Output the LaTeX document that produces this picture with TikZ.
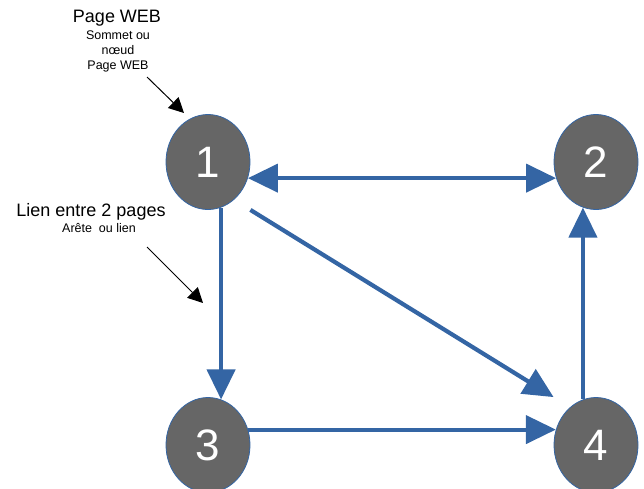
\documentclass[tikz,border=0pt]{standalone}
\usepackage{fontspec}
\setmainfont{Liberation Sans}
\usetikzlibrary{arrows.meta,calc,shapes.geometric}
\definecolor{lblue}{HTML}{3465A4}
\definecolor{nodegray}{HTML}{666666}
\tikzset{
  page/.style={ellipse, draw=lblue, line width=0.8pt, fill=nodegray, text=white,
    minimum width=84pt, minimum height=95pt, inner sep=0pt,
    font=\fontsize{44}{44}\selectfont},
  link/.style={draw=lblue, line width=4.2pt, -{Triangle[length=30pt,width=28pt]}},
  blink/.style={draw=lblue, line width=4.2pt, {Triangle[length=30pt,width=28pt]}-{Triangle[length=30pt,width=28pt]}},
  note/.style={-{Triangle[length=15pt,width=15pt]}, line width=1pt, black},
  big/.style={font=\fontsize{18}{20}\selectfont, inner sep=0pt},
  small/.style={font=\fontsize{12.5}{15}\selectfont, align=center, inner sep=0pt}
}
\begin{document}
\begin{tikzpicture}[x=1pt,y=-1pt]
\useasboundingbox (0,0) rectangle (644,488);
\node[page] (n1) at (208,162) {1};
\node[page] (n2) at (596,162) {2};
\node[page] (n3) at (208,445) {3};
\node[page] (n4) at (596,445) {4};

\draw[blink] (n1.-22) -- (n2.202);
\draw[link] (n1.-74) -- (n3.74);
\draw[link] ($(n1.east |- n1.south)$) -- ($(n4.west |- n4.north)$);
\draw[link] (n3.21) -- (n4.159);
\draw[link] (n4.106) -- (n2.254);

\node[big] (t1) at (117,18) {Page WEB};
\node[small] (t2) at (118,51) {Sommet ou\\nœud\\Page WEB};
\node[big] (t3) at (91,212) {Lien entre 2 pages};
\node[small] (t4) at (99,228) {Arête~ ou lien};

\coordinate (a1s) at (147,77);
\coordinate (a1e) at (184,113);
\coordinate (a2s) at (147,247);
\coordinate (a2e) at (203,303);
\draw[note] (a1s) -- (a1e);
\draw[note] (a2s) -- (a2e);
\end{tikzpicture}
\end{document}
